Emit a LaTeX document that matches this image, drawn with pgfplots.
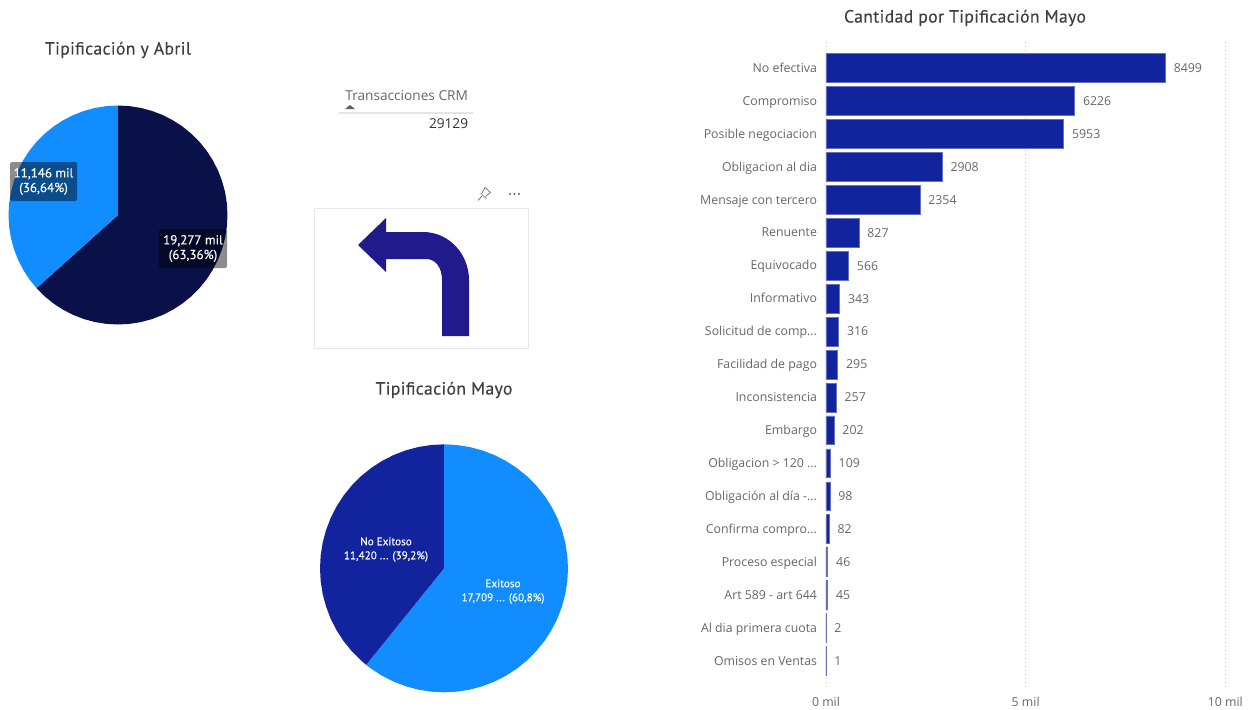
\documentclass[border=0pt]{standalone}
\usepackage{fontspec}
\usepackage{pgfplots}
\pgfplotsset{compat=1.18}
\setmainfont{Open Sans}
\newfontfamily\titlefont[LetterSpace=2,FakeBold=0.25]{PT Sans}
\newfontfamily\labelfont[FakeBold=0.25]{PT Sans}
\definecolor{navy}{HTML}{0A1149}
\definecolor{azure}{HTML}{118DFF}
\definecolor{royal}{HTML}{12239E}
\definecolor{arrowblue}{HTML}{201A8D}
\definecolor{titlegray}{HTML}{3F3F3F}
\definecolor{labelgray}{HTML}{666666}
% truncation dots, kept in a macro so that list parsing leaves them alone
\protected\def\tdots{.\kern0pt.\kern0pt.}
\begin{document}
% one picture unit is one pixel of the 1250 x 709 canvas, y running downwards
\begin{tikzpicture}[x=0.6pt,y=-0.6pt]
\path[use as bounding box] (0,0) rectangle (1250,709);

% April pie: 19,277 mil and 11,146 mil, outlines given as (angle, radius)
\begin{axis}[scale only axis,width=131.4pt,height=131.4pt,at={(70.8pt,-129pt)},anchor=center,
  hide axis,xmin=-1,xmax=1,ymin=-1,ymax=1,clip=false]
\addplot[fill=navy,draw=none,data cs=polar] coordinates {(0,0)(90,1)(84,1)(78,1)(72,1)(66,1)(60,1)(54,1)(48,1)(42,1)(36,1)(30,1)(24,1)(18,1)(12,1)(6,1)(0,1)(-6,1)(-12,1)(-18,1)(-24,1)(-30,1)(-36,1)(-42,1)(-48,1)(-54,1)(-60,1)(-66,1)(-72,1)(-78,1)(-84,1)(-90,1)(-96,1)(-102,1)(-108,1)(-114,1)(-120,1)(-126,1)(-132,1)(-138.1,1)} -- cycle;
\addplot[fill=azure,draw=none,data cs=polar] coordinates {(0,0)(90,1)(96,1)(102,1)(108,1)(114,1)(120,1)(126,1)(132,1)(138,1)(144,1)(150,1)(156,1)(162,1)(168,1)(174,1)(180,1)(186,1)(192,1)(198,1)(204,1)(210,1)(216,1)(221.9,1)} -- cycle;
\end{axis}

% May pie: Exitoso 17,709 and No Exitoso 11,420
\begin{axis}[scale only axis,width=148.8pt,height=148.8pt,at={(266.4pt,-341pt)},anchor=center,
  hide axis,xmin=-1,xmax=1,ymin=-1,ymax=1,clip=false]
\addplot[fill=azure,draw=none,data cs=polar] coordinates {(0,0)(90,1)(84,1)(78,1)(72,1)(66,1)(60,1)(54,1)(48,1)(42,1)(36,1)(30,1)(24,1)(18,1)(12,1)(6,1)(0,1)(-6,1)(-12,1)(-18,1)(-24,1)(-30,1)(-36,1)(-42,1)(-48,1)(-54,1)(-60,1)(-66,1)(-72,1)(-78,1)(-84,1)(-90,1)(-96,1)(-102,1)(-108,1)(-114,1)(-120,1)(-126,1)(-128.9,1)} -- cycle;
\addplot[fill=royal,draw=none,data cs=polar] coordinates {(0,0)(90,1)(96,1)(102,1)(108,1)(114,1)(120,1)(126,1)(132,1)(138,1)(144,1)(150,1)(156,1)(162,1)(168,1)(174,1)(180,1)(186,1)(192,1)(198,1)(204,1)(210,1)(216,1)(222,1)(228,1)(231.1,1)} -- cycle;
\end{axis}

% quantity per category in May
\begin{axis}[scale only axis,width=239.6pt,height=388.8pt,at={(495.6pt,-25.2pt)},anchor=north west,
  xbar,bar shift=0pt,bar width=17.3pt,y dir=reverse,
  xmin=0,xmax=10000,ymin=-0.789,ymax=18.88,
  axis line style={draw=none},tick style={draw=none},
  scaled x ticks=false,
  xtick={0,5000,10000},xticklabels={0 mil,5 mil,10 mil},xticklabel pos=lower,
  xmajorgrids,grid style={dotted,color=black!20,line width=0.5pt},
  ytick={0,1,2,3,4,5,6,7,8,9,10,11,12,13,14,15,16,17,18},
  yticklabels={No efectiva,Compromiso,Posible negociacion,Obligacion al dia,Mensaje con tercero,Renuente,Equivocado,Informativo,Solicitud de comp\tdots,Facilidad de pago,Inconsistencia,Embargo,Obligacion > 120 \tdots,Obligación al día -\tdots,Confirma compro\tdots,Proceso especial,Art 589 - art 644,Al dia primera cuota,Omisos en Ventas},
  ticklabel style={font=\fontsize{7.4}{9}\selectfont,color=labelgray},
  yticklabel style={xshift=2.4pt,text height=1.35ex,text depth=0.4ex},
  xticklabel style={yshift=-1pt},
  point meta=x,clip=false,
  nodes near coords={\pgfmathprintnumber{\pgfplotspointmeta}},
  every node near coord/.append style={font=\fontsize{7.4}{9}\selectfont,color=labelgray,anchor=west,xshift=1.5pt,
    /pgf/number format/fixed,/pgf/number format/1000 sep={},/pgf/number format/assume math mode=true}]
\addplot[fill=royal,draw=royal!65!white,line width=0.4pt] coordinates {
 (8499,0)(6226,1)(5953,2)(2908,3)(2354,4)(827,5)(566,6)(343,7)(316,8)(295,9)(257,10)(202,11)(109,12)(98,13)(82,14)(46,15)(45,16)(2,17)(1,18)};
\end{axis}

% titles
\node[font=\titlefont\fontsize{10.6}{12}\selectfont,color=titlegray] at (118,50) {Tipificación y Abril};
\node[font=\titlefont\fontsize{10.6}{12}\selectfont,color=titlegray] at (444,390) {Tipificación Mayo};
\node[font=\titlefont\fontsize{10.6}{12}\selectfont,color=titlegray] at (965,18) {Cantidad por Tipificación Mayo};

% April data labels
\fill[black,opacity=0.45,rounded corners=1.2pt] (10,162) rectangle (77,201);
\fill[black,opacity=0.45,rounded corners=1.2pt] (159,229) rectangle (227,268);
\node[font=\labelfont\fontsize{7.8}{8.8}\selectfont,color=white,align=center] at (43.5,181.5) {11,146 mil\\(36,64\%)};
\node[font=\labelfont\fontsize{7.8}{8.8}\selectfont,color=white,align=center] at (193,248.5) {19,277 mil\\(63,36\%)};

% May data labels
\node[font=\labelfont\fontsize{6.7}{8.4}\selectfont,color=white,align=center] at (386,549.5) {No Exitoso\\11,420 ... (39,2\%)};
\node[font=\labelfont\fontsize{6.7}{8.4}\selectfont,color=white,align=center] at (503,591.5) {Exitoso\\17,709 ... (60,8\%)};

% slicer card
\node[font=\fontsize{8.2}{10}\selectfont,color=labelgray,anchor=west] at (339.5,96) {Transacciones CRM};
\fill[black!62] (345,109) -- (350,105) -- (355,109) -- cycle;
\draw[black!10,line width=0.9pt] (339,113) -- (473,113);
\node[font=\fontsize{8.2}{10}\selectfont,color=black!80,anchor=east] at (474,124) {29129};

% visual header icons
\draw[black!60,line width=0.4pt,line join=round] (478,200.5) -- (482,196) (480.5,193) -- (486.5,199) (482,193) -- (485,187.5) -- (490.5,192.5) -- (485.5,196.5);
\fill[black!60] (510,194) circle (1.1) (514.5,194) circle (1.1) (519,194) circle (1.1);

% image card with the return arrow
\draw[black!9,line width=0.6pt] (314.5,208) rectangle (528.5,348);
\fill[arrowblue] (358,245) -- (386,218) -- (386,232) -- (423,232)
  .. controls (449,232) and (469,254) .. (469,280) -- (469,336) -- (442,336) -- (442,280)
  .. controls (442,268) and (436,259) .. (426,259) -- (386,259) -- (386,272) -- cycle;
\end{tikzpicture}
\end{document}
